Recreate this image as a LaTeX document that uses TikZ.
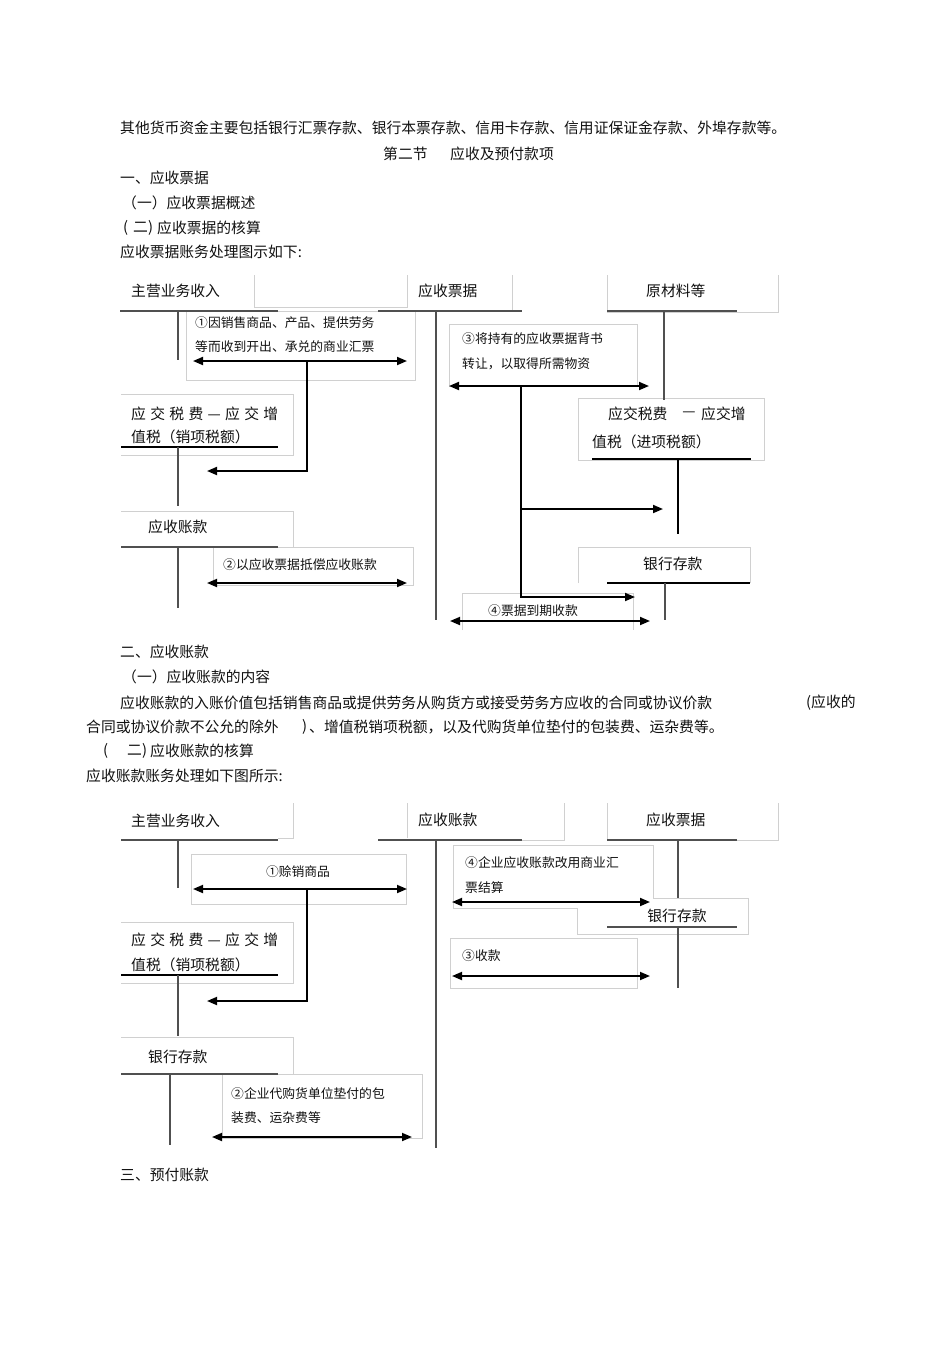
\documentclass[tikz,border=0pt]{standalone}
\usepackage{fontspec}
\setmainfont{Noto Sans CJK SC}
\usetikzlibrary{arrows.meta}
\definecolor{boxgray}{HTML}{D0D0D0}
\definecolor{tgray}{HTML}{505050}
\definecolor{txtc}{HTML}{111111}
\newcommand\myfs[1]{\fontsize{#1}{#1}\selectfont}
\tikzset{
 txt/.style={anchor=west, inner sep=0pt, text=txtc, font=\myfs{14.8}},
 ctxt/.style={anchor=center, inner sep=0pt, text=txtc, font=\myfs{14.8}},
 btxt/.style={anchor=west, inner sep=0pt, text=txtc, font=\myfs{12.8}},
 bx/.style={draw=boxgray, line width=0.8pt},
 bxf/.style={draw=boxgray, line width=0.8pt, fill=white},
 tl/.style={draw=tgray, line width=1.8pt},
 tlk/.style={draw=black, line width=1.7pt},
 arr/.style={line width=1.8pt, {Triangle[length=10pt,width=8pt]}-{Triangle[length=10pt,width=8pt]}},
 arrr/.style={line width=1.8pt, -{Triangle[length=10pt,width=8pt]}},
}
\begin{document}
\begin{tikzpicture}[x=1pt,y=-1pt]
\useasboundingbox[fill=white] (0,0) rectangle (950,1345);

% ---------------- text above first diagram ----------------
\node[txt] (p1) at (120,128) {其他货币资金主要包括银行汇票存款、银行本票存款、信用卡存款、信用证保证金存款、外埠存款等。};
\node[txt] (p2a) at (383,154) {第二节};
\node[txt] (p2b) at (450,154) {应收及预付款项};
\node[txt] (p3) at (120,178) {一、应收票据};
\node[txt] (p4) at (122,203) {（一）应收票据概述};
\node[txt] (p5a) at (123,228) {(};
\node[txt] (p5b) at (133,228) {二)};
\node[txt] (p5c) at (157,228) {应收票据的核算};
\node[txt] (p6) at (120,252) {应收票据账务处理图示如下:};

% ---------------- diagram 1: boxes ----------------
\draw[bx] (254,275) -- (254,307) -- (407,307) -- (407,275);
\draw[bx] (512,275) -- (512,311);
\draw[bx] (607,275) -- (607,312) -- (778,312) -- (778,275);
\draw[bxf] (186,311) rectangle (415,380);
\draw[bxf] (449,324) rectangle (637,386);
\draw[bxf] (121,394) -- (293,394) -- (293,455) -- (121,455);
\draw[bxf] (121,511) -- (293,511) -- (293,547) -- (121,547);
\draw[bxf] (213,547) rectangle (413,585);
\draw[bxf] (578,398) rectangle (764,460);
\draw[bxf] (578,583) -- (578,547) -- (750,547) -- (750,583);
\draw[bx] (462,630) -- (462,593) -- (633,593) -- (633,630);

% ---------------- diagram 1: texts ----------------
\node[txt] (a1) at (131,291) {主营业务收入};
\node[txt] (a2) at (418,291) {应收票据};
\node[txt] (a3) at (646,291) {原材料等};
\node[btxt] (b1a) at (195,323) {①因销售商品、产品、提供劳务};
\node[btxt] (b1b) at (195,347) {等而收到开出、承兑的商业汇票};
\node[txt] (a4a) at (131,414) {\makebox[147pt][s]{应\hfill 交\hfill 税\hfill 费\hfill —\hfill 应\hfill 交\hfill 增}};
\node[txt] (a4b) at (131,437) {值税（销项税额）};
\node[txt] (a5) at (148,527) {应收账款};
\node[btxt] (b2) at (223,565) {②以应收票据抵偿应收账款};
\node[btxt] (b3a) at (462,339) {③将持有的应收票据背书};
\node[btxt] (b3b) at (462,364) {转让，以取得所需物资};
\node[txt] (a6a) at (608,414) {应交税费};
\node[ctxt] (a6d) at (689,414) {—};
\node[txt] (a6c) at (701,414) {应交增};
\node[txt] (a6b) at (592,442) {值税（进项税额）};
\node[txt] (a7) at (643,564) {银行存款};
\node[btxt] (b4) at (488,611) {④票据到期收款};

% ---------------- diagram 1: T-lines ----------------
\coordinate (t1l) at (120,311); \coordinate (t1r) at (278,311);
\coordinate (t1t) at (178,311); \coordinate (t1b) at (178,360);
\draw[tl] (t1l) -- (t1r); \draw[tl] (t1t) -- (t1b);
\coordinate (t2l) at (378,311); \coordinate (t2r) at (522,311);
\coordinate (t2t) at (436,311); \coordinate (t2b) at (436,620);
\draw[tl] (t2l) -- (t2r); \draw[tl] (t2t) -- (t2b);
\coordinate (t3l) at (607,311); \coordinate (t3r) at (737,311);
\coordinate (t3t) at (664,311); \coordinate (t3b) at (664,400);
\draw[tl] (t3l) -- (t3r); \draw[tl] (t3t) -- (t3b);
\coordinate (t4l) at (121,447); \coordinate (t4r) at (278,447);
\coordinate (t4t) at (178,447); \coordinate (t4b) at (178,506);
\draw[tlk] (t4l) -- (t4r); \draw[tl] (t4t) -- (t4b);
\coordinate (t5l) at (121,547); \coordinate (t5r) at (278,547);
\coordinate (t5t) at (178,547); \coordinate (t5b) at (178,608);
\draw[tl] (t5l) -- (t5r); \draw[tl] (t5t) -- (t5b);
\coordinate (t6l) at (592,459); \coordinate (t6r) at (751,459);
\coordinate (t6t) at (678,459); \coordinate (t6b) at (678,534);
\draw[tlk] (t6l) -- (t6r); \draw[tlk,line width=2.2pt] (t6t) -- (t6b);
\coordinate (t7l) at (607,583); \coordinate (t7r) at (750,583);
\coordinate (t7t) at (665,583); \coordinate (t7b) at (665,620);
\draw[tlk] (t7l) -- (t7r); \draw[tl] (t7t) -- (t7b);

% ---------------- diagram 1: arrows ----------------
\coordinate (r1l) at (193,361); \coordinate (r1r) at (407,361);
\coordinate (r1m) at (307,361); \coordinate (r1c) at (307,471); \coordinate (r1e) at (207,471);
\draw[arr] (r1l) -- (r1r);
\draw[arrr] (r1m) -- (r1c) -- (r1e);
\coordinate (r2l) at (207,583); \coordinate (r2r) at (407,583);
\draw[arr] (r2l) -- (r2r);
\coordinate (r3l) at (449,386); \coordinate (r3r) at (649,386);
\coordinate (r3m) at (521,386); \coordinate (r3c) at (521,597); \coordinate (r3e) at (635,597);
\coordinate (r3s) at (521,509); \coordinate (r3f) at (663,509);
\draw[arr] (r3l) -- (r3r);
\draw[arrr] (r3m) -- (r3c) -- (r3e);
\draw[arrr] (r3s) -- (r3f);
\coordinate (r4l) at (450,621); \coordinate (r4r) at (650,621);
\draw[arr] (r4l) -- (r4r);

% ---------------- text between diagrams ----------------
\node[txt] (q1) at (120,652) {二、应收账款};
\node[txt] (q2) at (122,677) {（一）应收账款的内容};
\node[txt] (q3a) at (120,703) {应收账款的入账价值包括销售商品或提供劳务从购货方或接受劳务方应收的合同或协议价款};
\node[txt] (q3b) at (806,703) {(应收的};
\node[txt] (q4a) at (86,727) {合同或协议价款不公允的除外};
\node[txt] (q4b) at (302,727) {)};
\node[txt] (q4c) at (309,727) {、增值税销项税额，以及代购货单位垫付的包装费、运杂费等。};
\node[txt] (q5a) at (103,751) {(};
\node[txt] (q5b) at (127,751) {二)};
\node[txt] (q5c) at (150,751) {应收账款的核算};
\node[txt] (q6) at (86,776) {应收账款账务处理如下图所示:};

% ---------------- diagram 2: boxes ----------------
\draw[bx] (293,803) -- (293,838) -- (278,838);
\draw[bx] (407,803) -- (407,838);
\draw[bx] (564,803) -- (564,840) -- (522,840);
\draw[bx] (607,803) -- (607,840);
\draw[bx] (778,803) -- (778,840) -- (737,840);
\draw[bxf] (191,854) rectangle (406,904);
\draw[bxf] (121,922) -- (293,922) -- (293,983) -- (121,983);
\draw[bxf] (121,1037) -- (293,1037) -- (293,1074) -- (121,1074);
\draw[bxf] (222,1074) rectangle (422,1138);

% T-line of 应收票据 (under the combined box)
\coordinate (u3l) at (607,840); \coordinate (u3r) at (737,840);
\coordinate (u3t) at (678,840); \coordinate (u3b) at (678,900);
\draw[tl] (u3l) -- (u3r); \draw[tl] (u3t) -- (u3b);

\draw[bxf] (453,908) -- (453,845) -- (653,845) -- (653,898) -- (748,898) -- (748,934) -- (577,934) -- (577,908) -- cycle;
\draw[bxf] (450,938) rectangle (637,988);

% ---------------- diagram 2: texts ----------------
\node[txt] (c1) at (131,821) {主营业务收入};
\node[txt] (c2) at (418,820) {应收账款};
\node[txt] (c3) at (646,820) {应收票据};
\node[btxt,anchor=center] (d1) at (298,872) {①赊销商品};
\node[txt] (c4a) at (131,940) {\makebox[147pt][s]{应\hfill 交\hfill 税\hfill 费\hfill —\hfill 应\hfill 交\hfill 增}};
\node[txt] (c4b) at (131,965) {值税（销项税额）};
\node[txt] (c5) at (148,1057) {银行存款};
\node[btxt] (d2a) at (231,1094) {②企业代购货单位垫付的包};
\node[btxt] (d2b) at (231,1118) {装费、运杂费等};
\node[btxt] (d4a) at (465,863) {④企业应收账款改用商业汇};
\node[btxt] (d4b) at (465,888) {票结算};
\node[ctxt] (c6) at (677,916) {银行存款};
\node[btxt] (d3) at (462,956) {③收款};

% ---------------- diagram 2: T-lines ----------------
\coordinate (u1l) at (121,840); \coordinate (u1r) at (278,840);
\coordinate (u1t) at (178,840); \coordinate (u1b) at (178,888);
\draw[tl] (u1l) -- (u1r); \draw[tl] (u1t) -- (u1b);
\coordinate (u2l) at (378,840); \coordinate (u2r) at (522,840);
\coordinate (u2t) at (436,840); \coordinate (u2b) at (436,1148);
\draw[tl] (u2l) -- (u2r); \draw[tl] (u2t) -- (u2b);
\coordinate (u4l) at (121,975); \coordinate (u4r) at (278,975);
\coordinate (u4t) at (178,975); \coordinate (u4b) at (178,1036);
\draw[tlk] (u4l) -- (u4r); \draw[tl] (u4t) -- (u4b);
\coordinate (u5l) at (121,1074); \coordinate (u5r) at (278,1074);
\coordinate (u5t) at (170,1074); \coordinate (u5b) at (170,1145);
\draw[tl] (u5l) -- (u5r); \draw[tl] (u5t) -- (u5b);
\coordinate (u6l) at (607,927); \coordinate (u6r) at (737,927);
\coordinate (u6t) at (678,927); \coordinate (u6b) at (678,988);
\draw[tl] (u6l) -- (u6r); \draw[tl] (u6t) -- (u6b);

% ---------------- diagram 2: arrows ----------------
\coordinate (s1l) at (193,889); \coordinate (s1r) at (407,889);
\coordinate (s1m) at (307,889); \coordinate (s1c) at (307,1001); \coordinate (s1e) at (207,1001);
\draw[arr] (s1l) -- (s1r);
\draw[arrr] (s1m) -- (s1c) -- (s1e);
\coordinate (s2l) at (212,1137); \coordinate (s2r) at (412,1137);
\draw[arr] (s2l) -- (s2r);
\coordinate (s4l) at (452,902); \coordinate (s4r) at (650,902);
\draw[arr] (s4l) -- (s4r);
\coordinate (s3l) at (452,976); \coordinate (s3r) at (650,976);
\draw[arr] (s3l) -- (s3r);

\node[txt] (e1) at (120,1175) {三、预付账款};
\end{tikzpicture}
\end{document}
